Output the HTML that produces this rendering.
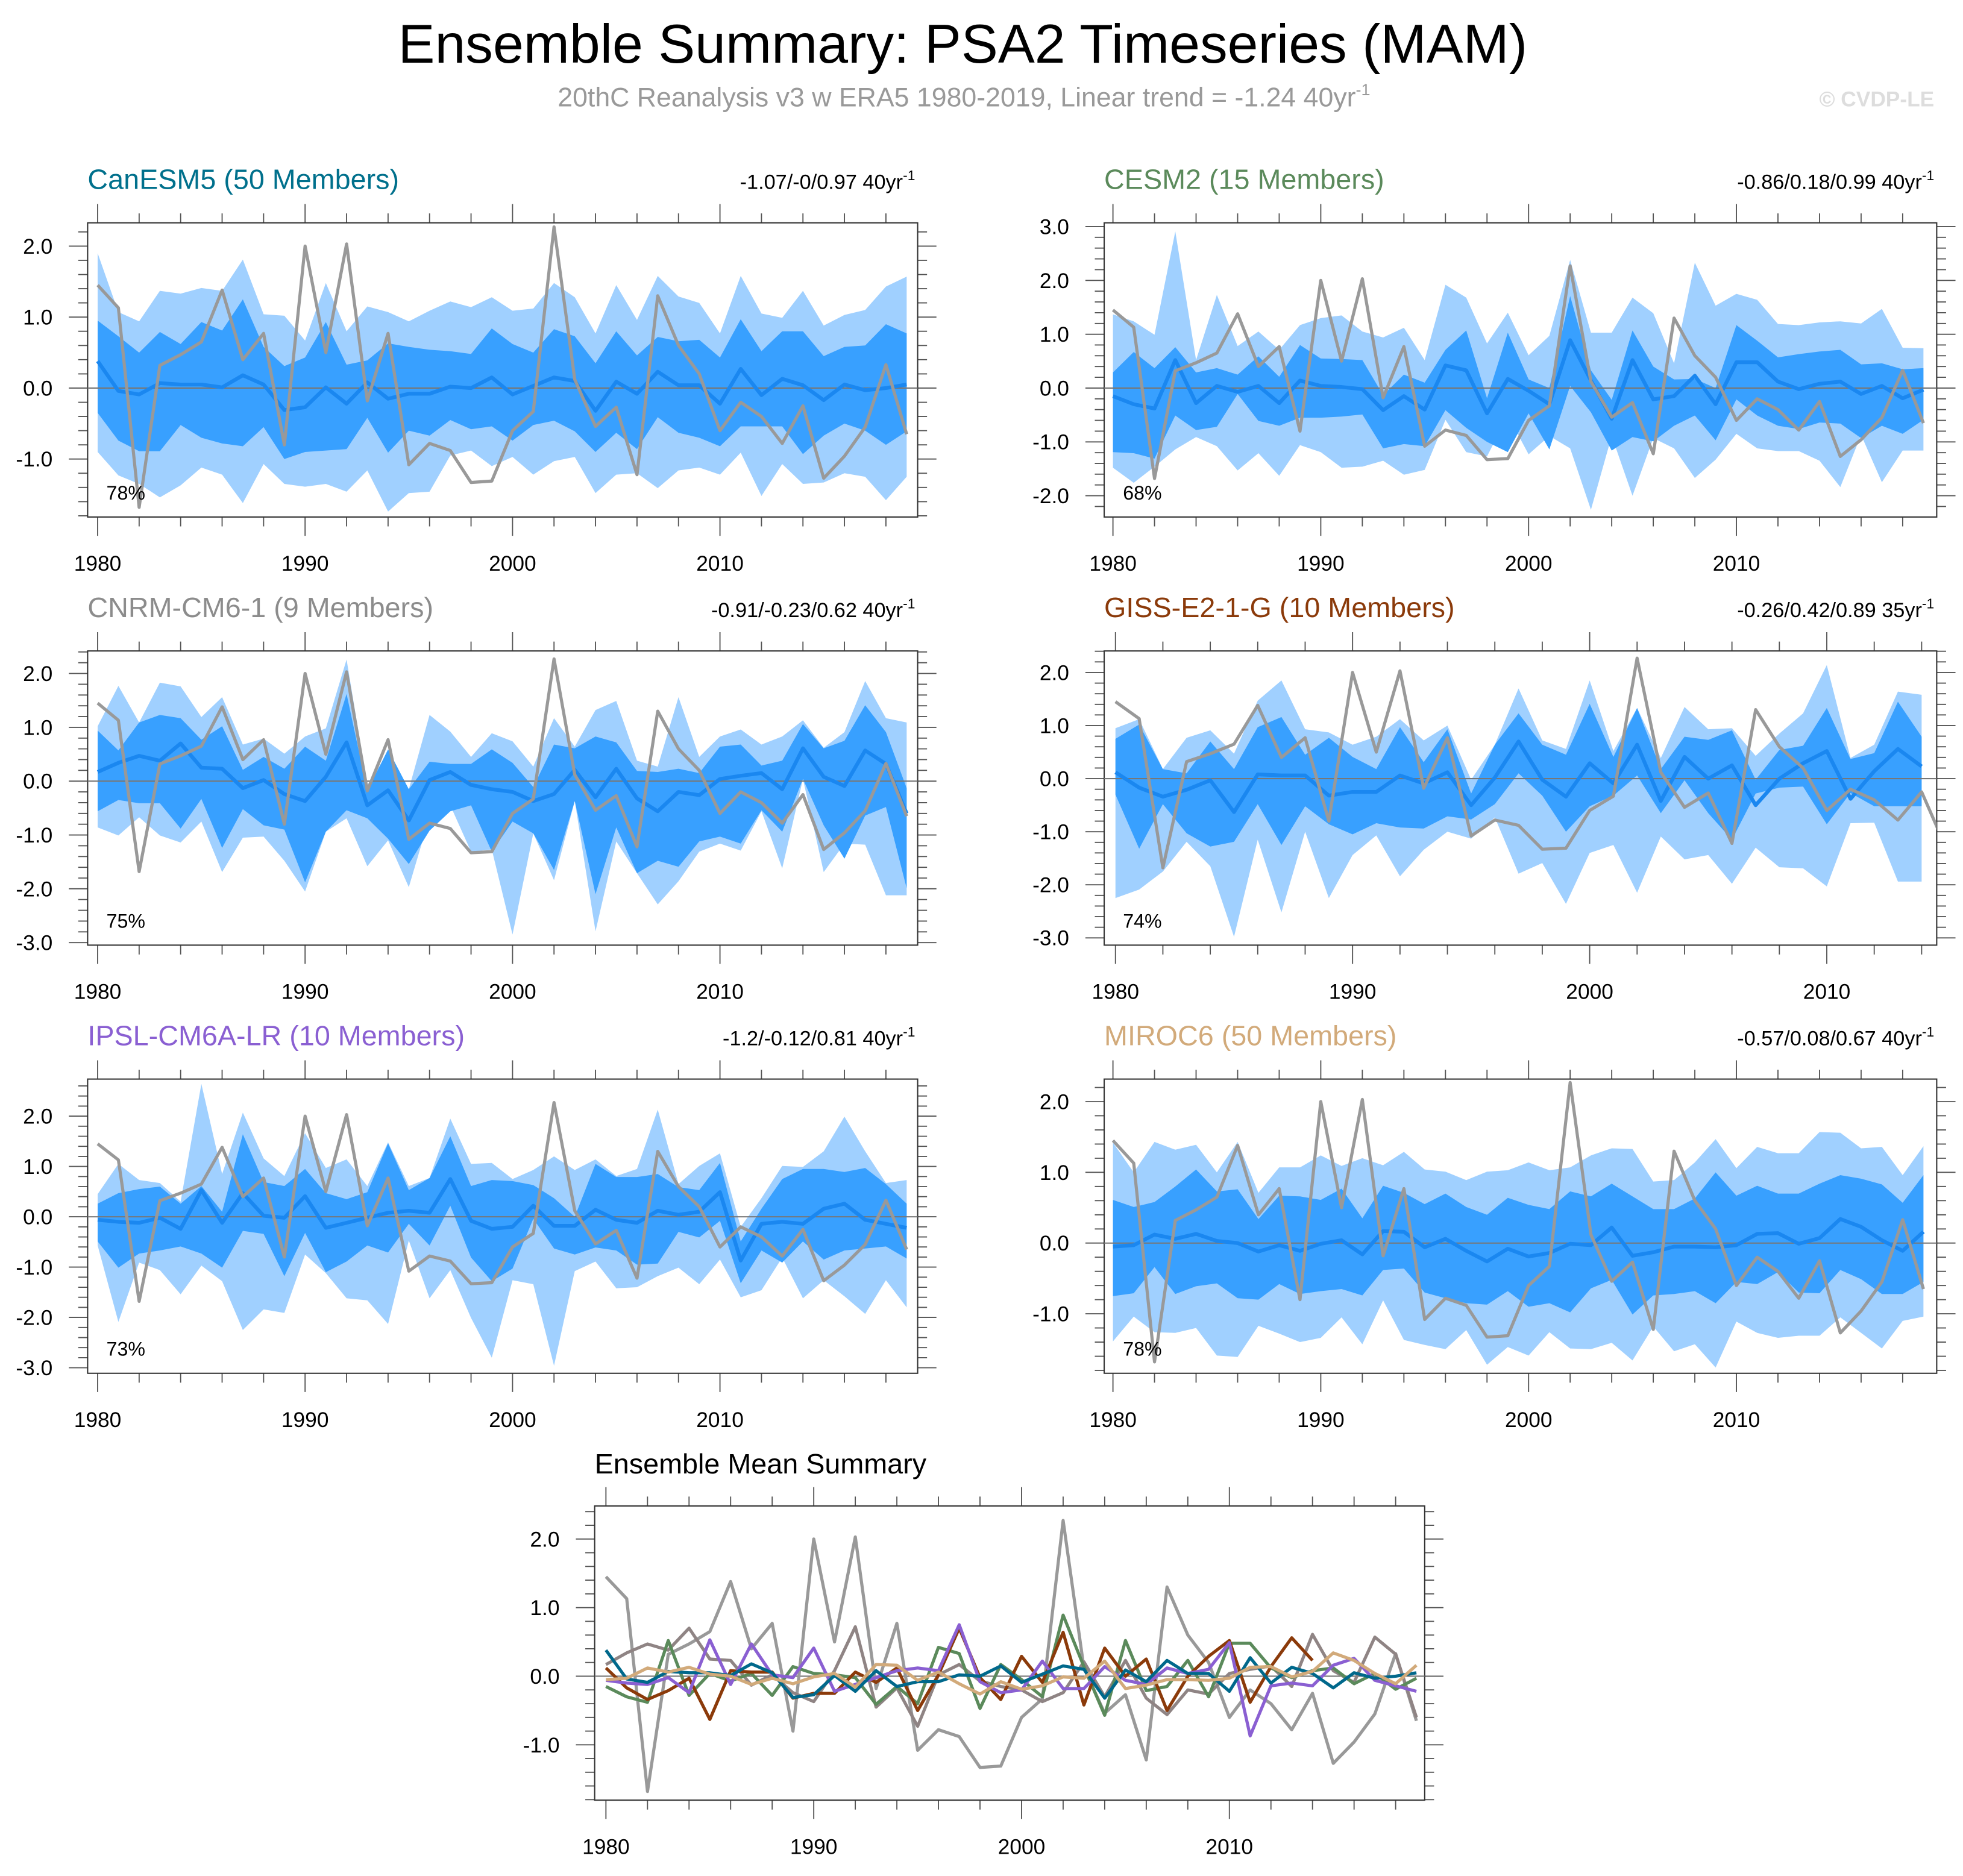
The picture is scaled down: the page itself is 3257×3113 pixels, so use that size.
<!DOCTYPE html>
<html><head><meta charset="utf-8"><style>
html,body{margin:0;padding:0;background:#fff;}
svg{display:block;font-family:"Liberation Sans",sans-serif;}
</style></head><body>
<svg id="chart" xmlns="http://www.w3.org/2000/svg" width="3257" height="3113" viewBox="0 0 1568 1498.6" preserveAspectRatio="none">
<rect x="0" y="0" width="1568" height="1498.6" fill="#fff"/>
<text x="769" y="50" font-size="44" text-anchor="middle" fill="#000">Ensemble Summary: PSA2 Timeseries (MAM)</text>
<text x="770" y="85" font-size="21.5" text-anchor="middle" fill="#999">20thC Reanalysis v3 w ERA5 1980-2019, Linear trend = -1.24 40yr<tspan dy="-9" font-size="13">-1</tspan></text>
<text x="1545" y="85" font-size="17" font-weight="bold" text-anchor="end" fill="#ddd">© CVDP-LE</text>
<g id="panels"></g>
</svg>
<script>
// ---- data ----
const obsYears = [1980,1981,1982,1983,1984,1985,1986,1987,1988,1989,1990,1991,1992,1993,1994,1995,1996,1997,1998,1999,2000,2001,2002,2003,2004,2005,2006,2007,2008,2009,2010,2011,2012,2013,2014,2015,2016,2017,2018,2019];
const obs = [1.45,1.13,-1.68,0.32,0.47,0.65,1.38,0.40,0.77,-0.80,2.0,0.50,2.03,-0.18,0.77,-1.08,-0.78,-0.88,-1.33,-1.31,-0.60,-0.33,2.27,0.12,-0.54,-0.27,-1.22,1.30,0.60,0.20,-0.60,-0.20,-0.40,-0.78,-0.25,-1.27,-0.96,-0.55,0.33,-0.65];

const canOuterHi=[1.9,1.07,0.94,1.37,1.33,1.41,1.37,1.81,1.04,1.02,0.67,1.48,0.8,1.15,1.07,0.94,1.09,1.22,1.14,1.28,1.09,1.12,1.48,1.28,0.77,1.45,0.96,1.58,1.29,1.2,0.77,1.58,1.05,0.99,1.37,0.88,1.03,1.1,1.43,1.57];
const canInnerHi=[0.95,0.73,0.5,0.79,0.62,0.93,0.81,1.25,0.58,0.31,0.43,0.93,0.33,0.39,0.63,0.58,0.54,0.52,0.48,0.84,0.62,0.5,0.83,0.73,0.35,0.8,0.46,0.72,0.66,0.68,0.43,0.97,0.52,0.8,0.8,0.45,0.58,0.6,0.9,0.77];
const canMean=[0.38,-0.04,-0.09,0.07,0.05,0.05,0.01,0.18,0.05,-0.31,-0.27,0.01,-0.22,0.08,-0.15,-0.08,-0.08,0.02,0.0,0.15,-0.09,0.03,0.15,0.1,-0.32,0.09,-0.08,0.23,0.04,0.04,-0.22,0.27,-0.1,0.13,0.04,-0.17,0.05,-0.03,0.0,0.05];
const canInnerLo=[-0.35,-0.74,-0.89,-0.89,-0.52,-0.7,-0.78,-0.82,-0.55,-1.0,-0.9,-0.88,-0.86,-0.42,-0.91,-0.6,-0.67,-0.45,-0.58,-0.54,-0.74,-0.52,-0.46,-0.61,-0.9,-0.63,-0.86,-0.41,-0.63,-0.7,-0.82,-0.54,-0.54,-0.54,-0.93,-0.67,-0.5,-0.6,-0.8,-0.61];
const canOuterLo=[-0.9,-1.23,-1.35,-1.54,-1.37,-1.12,-1.22,-1.62,-1.07,-1.35,-1.39,-1.35,-1.46,-1.16,-1.74,-1.48,-1.46,-0.95,-0.88,-1.1,-0.97,-1.22,-1.03,-0.97,-1.48,-1.22,-1.2,-1.41,-1.16,-1.12,-1.22,-0.91,-1.52,-1.07,-1.35,-1.33,-1.2,-1.25,-1.58,-1.25];

const cesmOuterHi=[1.37,1.24,0.99,2.91,0.52,1.73,0.78,1.05,0.71,1.17,1.3,1.35,1.05,0.94,1.12,0.52,1.92,1.68,0.83,1.4,0.61,0.97,2.38,1.03,1.03,1.68,1.39,0.46,2.33,1.53,1.75,1.64,1.19,1.17,1.22,1.24,1.2,1.47,0.75,0.74];
const cesmInnerHi=[0.29,0.67,0.37,0.76,0.29,0.37,0.25,0.59,0.21,0.8,0.55,0.54,0.52,-0.13,0.25,0.1,0.71,1.07,-0.19,1.03,0.16,0.0,1.71,0.33,-0.22,1.07,0.4,0.16,0.17,0.0,1.17,0.88,0.57,0.63,0.68,0.71,0.44,0.46,0.35,0.37];
const cesmMean=[-0.15,-0.3,-0.38,0.52,-0.28,0.04,-0.07,0.04,-0.28,0.14,0.04,0.02,-0.02,-0.41,-0.15,-0.4,0.42,0.33,-0.47,0.17,-0.05,-0.3,0.89,0.14,-0.57,0.52,-0.21,-0.15,0.23,-0.3,0.48,0.48,0.12,-0.02,0.08,0.12,-0.11,0.04,-0.19,-0.03];
const cesmInnerLo=[-1.19,-1.21,-1.31,-0.51,-0.78,-0.72,-0.11,-0.61,-0.7,-0.55,-0.55,-0.53,-0.49,-1.12,-1.04,-1.08,-0.41,-0.74,-1.0,-1.19,-0.47,-1.14,0.04,-0.45,-1.16,-0.91,-0.99,-0.7,-0.51,-0.97,-0.21,-0.51,-0.7,-0.76,-0.64,-0.66,-0.93,-0.7,-0.85,-0.59];
const cesmOuterLo=[-1.48,-1.76,-1.46,-1.14,-0.91,-1.08,-1.53,-1.21,-1.63,-1.06,-1.19,-1.48,-1.46,-1.35,-1.61,-1.52,-0.59,-1.19,-1.27,-0.51,-1.23,-0.89,-1.12,-2.26,-0.89,-2.0,-0.93,-1.12,-1.67,-1.33,-0.85,-1.12,-1.17,-1.17,-1.35,-1.84,-0.87,-1.75,-1.16,-1.16];

const cnrmOuterHi=[1.02,1.77,1.09,1.83,1.76,1.19,1.56,0.68,0.79,0.51,0.83,0.98,2.26,-0.07,0.53,-0.15,1.23,0.92,0.45,0.89,0.74,0.27,1.17,0.64,1.32,1.49,0.38,0.27,1.56,0.45,0.83,0.96,0.68,0.83,1.13,0.62,0.91,1.86,1.17,1.09];
const cnrmInnerHi=[0.94,0.57,1.09,1.23,1.17,0.77,1.02,0.21,0.45,0.23,0.64,0.38,1.62,-0.18,0.59,-0.15,0.36,0.32,0.32,0.59,0.34,-0.11,0.68,0.61,0.83,0.72,0.19,0.17,0.23,0.15,0.64,0.68,0.29,0.38,1.06,0.61,0.75,1.41,0.91,-0.13];
const cnrmMean=[0.17,0.34,0.47,0.38,0.7,0.25,0.23,-0.13,0.02,-0.24,-0.37,0.08,0.72,-0.45,-0.17,-0.73,0.02,0.17,-0.07,-0.15,-0.2,-0.37,-0.24,0.21,-0.3,0.23,-0.32,-0.56,-0.2,-0.26,0.04,0.1,0.15,-0.15,0.61,0.08,-0.09,0.57,0.32,-0.6];
const cnrmInnerLo=[-0.56,-0.35,-0.41,-0.41,-0.88,-0.33,-1.24,-0.52,-0.82,-0.9,-1.88,-0.94,-0.54,-0.69,-1.07,-1.54,-0.92,-0.56,-0.45,-1.31,-0.75,-0.97,-1.65,-0.37,-2.1,-0.86,-1.71,-1.48,-1.59,-1.12,-1.03,-1.16,-0.54,-0.94,0.04,-0.82,-1.44,-0.64,-0.48,-1.99];
const cnrmOuterLo=[-0.86,-1.01,-0.67,-1.01,-1.14,-0.75,-1.69,-1.05,-1.03,-1.48,-2.05,-0.94,-0.69,-1.58,-1.1,-1.97,-0.67,-0.45,-1.31,-1.27,-2.85,-0.97,-1.84,-0.37,-2.79,-1.12,-1.71,-2.29,-1.86,-1.31,-1.16,-1.29,-0.56,-1.62,0.04,-1.69,-1.16,-1.18,-2.12,-2.12];

const gissOuterHi=[0.95,1.12,0.18,0.77,0.91,0.47,1.47,1.85,0.93,0.87,0.64,0.79,1.12,0.72,1.0,-0.02,0.64,1.7,0.72,0.56,1.85,0.52,1.33,0.39,1.35,0.93,0.95,0.43,0.85,1.23,2.14,0.39,0.64,1.64,1.58];
const gissInnerHi=[0.75,1.02,0.18,0.1,0.7,0.18,0.97,1.16,0.45,0.77,0.41,0.18,0.97,0.31,0.93,-0.28,0.64,1.23,0.64,0.45,1.41,0.41,1.33,0.18,0.79,0.73,0.91,-0.02,0.54,0.62,1.33,0.37,0.48,1.45,0.79];
const gissMean=[0.12,-0.17,-0.34,-0.21,-0.03,-0.63,0.08,0.06,0.06,-0.32,-0.25,-0.25,0.06,-0.09,0.12,-0.5,0.02,0.7,-0.02,-0.34,0.29,-0.09,0.64,-0.42,0.41,0.0,0.25,-0.5,0.0,0.29,0.52,-0.38,0.14,0.56,0.23];
const gissInnerLo=[-0.3,-1.32,-0.48,-1.03,-1.28,-1.19,-0.48,-1.25,-0.52,-0.86,-1.05,-0.84,-0.92,-0.94,-0.71,-0.77,-0.48,0.1,-0.32,-1.0,-0.52,-0.32,0.06,-0.65,-0.03,-0.65,-1.15,-0.28,-0.17,-0.15,-0.86,-0.27,-0.52,-0.52,-0.52];
const gissOuterLo=[-2.25,-2.09,-1.75,-1.19,-1.65,-2.98,-1.15,-2.52,-1.0,-2.25,-1.44,-1.07,-1.84,-1.34,-1.0,-1.13,-0.73,-1.79,-1.59,-2.36,-1.4,-1.25,-2.15,-1.09,-1.52,-1.44,-1.98,-1.3,-1.67,-1.69,-2.03,-0.84,-0.83,-1.94,-1.94];

const ipslOuterHi=[0.45,1.05,0.73,0.67,0.3,2.64,0.85,2.07,1.16,0.81,1.66,0.97,1.14,0.61,1.48,0.61,0.77,1.95,1.05,1.07,0.75,0.93,1.2,0.93,1.14,0.81,0.95,2.13,0.65,1.01,1.26,-0.2,0.37,1.01,0.99,1.3,1.99,1.3,0.67,0.73];
const ipslInnerHi=[0.26,0.47,0.55,0.6,0.26,0.61,0.1,1.64,0.69,0.61,0.95,0.47,0.35,0.49,1.46,0.53,0.77,1.6,0.61,0.73,0.71,0.63,0.37,0.0,1.05,0.79,0.79,0.85,0.59,0.53,1.07,-0.49,0.16,0.75,0.95,0.95,0.89,0.97,0.65,0.26];
const ipslMean=[-0.06,-0.1,-0.12,-0.02,-0.24,0.53,-0.12,0.47,0.02,-0.02,0.41,-0.22,-0.12,-0.02,0.08,0.12,0.08,0.75,-0.08,-0.24,-0.2,0.22,-0.18,-0.18,0.14,-0.06,-0.12,0.12,0.04,0.1,0.49,-0.87,-0.14,-0.1,-0.14,0.16,0.26,-0.06,-0.14,-0.22];
const ipslInnerLo=[-0.49,-1.01,-0.73,-0.67,-0.59,-0.73,-1.01,-0.28,-0.34,-1.18,-0.32,-1.1,-0.89,-0.57,-0.71,-0.14,-0.57,0.22,-0.81,-1.28,-1.03,-0.04,-0.63,-0.75,-0.61,-0.67,-0.95,-0.93,-0.3,-0.41,-0.08,-1.32,-0.67,-0.91,-0.49,-0.85,-0.67,-0.63,-0.59,-0.83];
const ipslOuterLo=[-0.57,-2.09,-0.91,-1.06,-1.54,-0.97,-1.28,-2.25,-1.84,-1.91,-0.75,-1.12,-1.62,-1.66,-2.13,-0.47,-1.62,-1.06,-2.01,-2.8,-1.26,-1.34,-2.96,-1.08,-0.89,-1.42,-1.4,-1.18,-1.01,-1.34,-0.85,-1.6,-1.46,-0.81,-1.62,-1.26,-1.58,-1.93,-1.26,-1.8];

const mirocOuterHi=[1.42,1.0,1.43,1.32,1.39,1.0,1.43,0.71,1.07,1.07,1.24,1.09,1.2,1.1,1.29,1.04,1.01,0.89,1.01,1.03,1.14,1.03,1.07,1.24,1.34,1.33,0.87,0.89,1.14,1.47,1.06,1.36,1.27,1.27,1.57,1.56,1.34,1.36,0.96,1.37];
const mirocInnerHi=[0.61,0.51,0.58,0.8,1.04,0.73,0.76,0.34,0.67,0.66,0.61,0.77,0.35,0.81,0.71,0.55,0.7,0.51,0.4,0.64,0.54,0.48,0.73,0.66,0.84,0.66,0.48,0.48,0.63,1.0,0.67,0.81,0.7,0.7,0.84,0.96,0.91,0.83,0.57,0.96];
const mirocMean=[-0.05,-0.03,0.12,0.06,0.13,0.03,0.0,-0.12,-0.03,-0.11,-0.01,0.04,-0.16,0.17,0.16,-0.06,0.06,-0.11,-0.26,-0.08,-0.19,-0.14,-0.01,-0.03,0.22,-0.18,-0.13,-0.05,-0.05,-0.06,-0.03,0.13,0.14,-0.01,0.07,0.34,0.23,0.04,-0.11,0.16];
const mirocInnerLo=[-0.75,-0.71,-0.34,-0.72,-0.61,-0.57,-0.78,-0.8,-0.58,-0.72,-0.68,-0.65,-0.74,-0.38,-0.36,-0.7,-0.78,-0.85,-0.87,-0.68,-0.9,-0.85,-0.98,-0.64,-0.52,-1.01,-0.74,-0.72,-0.68,-0.85,-0.55,-0.58,-0.41,-0.7,-0.71,-0.38,-0.51,-0.72,-0.72,-0.55];
const mirocOuterLo=[-1.39,-1.04,-1.26,-1.27,-1.2,-1.59,-1.61,-1.17,-1.28,-1.4,-1.34,-1.05,-1.43,-0.81,-1.37,-1.44,-1.5,-1.23,-1.72,-1.47,-1.59,-1.26,-1.49,-1.5,-1.41,-1.66,-1.18,-1.53,-1.43,-1.76,-1.11,-1.27,-1.34,-1.31,-1.31,-1.05,-1.27,-1.49,-1.1,-1.04];

const modelNames = ["CanESM5 (50 Members)","CESM2 (15 Members)","CNRM-CM6-1 (9 Members)","GISS-E2-1-G (10 Members)","IPSL-CM6A-LR (10 Members)","MIROC6 (50 Members)"];
const trendLabels = ["-1.07/-0/0.97 40yr","-0.86/0.18/0.99 40yr","-0.91/-0.23/0.62 40yr","-0.26/0.42/0.89 35yr","-1.2/-0.12/0.81 40yr","-0.57/0.08/0.67 40yr"];
const pctLabels = ["78%","68%","75%","74%","73%","78%"];
const xTickLabels = [1980,1990,2000,2010];

// ---- layout ----
const NS="http://www.w3.org/2000/svg";
const root=document.getElementById('panels');
const colors=["#00708c","#5b8a5b","#8c8c8c","#8b3a0a","#8a5fd2","#d2aa7a"];
const meanLineColors=["#00688b","#5b8a5b","#8f8484","#8b3a0a","#8a5fd2","#d2aa7a"];
const panels=[
 {box:[70,178,733,413],x0:78,dx:16.57,y0:310,dy:56.7,yt:[2,1,0,-1],slug:"canesm5",d:[canOuterHi,canInnerHi,canMean,canInnerLo,canOuterLo]},
 {box:[882,178,1547,413],x0:889,dx:16.6,y0:310,dy:43,yt:[3,2,1,0,-1,-2],slug:"cesm2",d:[cesmOuterHi,cesmInnerHi,cesmMean,cesmInnerLo,cesmOuterLo]},
 {box:[70,520,733,755],x0:78,dx:16.57,y0:624,dy:43,yt:[2,1,0,-1,-2,-3],slug:"cnrm",d:[cnrmOuterHi,cnrmInnerHi,cnrmMean,cnrmInnerLo,cnrmOuterLo]},
 {box:[882,520,1547,755],x0:891,dx:18.94,y0:622,dy:42.4,yt:[2,1,0,-1,-2,-3],slug:"giss",d:[gissOuterHi,gissInnerHi,gissMean,gissInnerLo,gissOuterLo]},
 {box:[70,862,733,1097],x0:78,dx:16.57,y0:972,dy:40.2,yt:[2,1,0,-1,-2,-3],slug:"ipsl",d:[ipslOuterHi,ipslInnerHi,ipslMean,ipslInnerLo,ipslOuterLo]},
 {box:[882,862,1547,1097],x0:889,dx:16.6,y0:993,dy:56.5,yt:[2,1,0,-1],slug:"miroc6",d:[mirocOuterHi,mirocInnerHi,mirocMean,mirocInnerLo,mirocOuterLo]}
];
function mk(tag,attrs,parent){const e=document.createElementNS(NS,tag);for(const k in attrs)e.setAttribute(k,attrs[k]);(parent||root).appendChild(e);return e;}
function axes(g,p){
 const [L,T,R,B]=p.box;
 const X=y=>p.x0+(y-1980)*p.dx, Y=v=>p.y0-v*p.dy;
 const vMin=(p.y0-B)/p.dy, vMax=(p.y0-T)/p.dy;
 let tk="";
 for(let y=1980;y<=2020;y+=2){const x=X(y);if(x<L-0.5||x>R+0.5)continue;const len=(y%10===0)?15:7.5;tk+=`M${x},${T}V${T-len}M${x},${B}V${B+len}`;}
 for(let k=Math.ceil(vMin*5);k<=Math.floor(vMax*5);k++){const y=Y(k/5);const len=(k%5===0)?15:7.5;tk+=`M${L},${y}H${L-len}M${R},${y}H${R+len}`;}
 const ticks=mk('path',{d:tk,stroke:"#555","stroke-width":"0.9",fill:"none"},g);
 
 
 const frame=mk('rect',{x:L,y:T,width:R-L,height:B-T,fill:"none",stroke:"#333","stroke-width":"1"},g);
 
 
 xTickLabels.forEach(yr=>{const t=mk('text',{x:X(yr),y:B+43,"font-size":"17","text-anchor":"middle",fill:"#000"},g);t.textContent=yr;
  
  });
 p.yt.forEach(v=>{const t=mk('text',{x:L-28,y:Y(v)+6,"font-size":"17","text-anchor":"end",fill:"#000"},g);t.textContent=v.toFixed(1);
  
  });
 return {X,Y};
}
function line(g,vals,X,Y,stroke,w,name){
 const pts=vals.map((v,i)=>X(1980+i)+","+Y(v)).join(" ");
 const l=mk('polyline',{points:pts,fill:"none",stroke:stroke,"stroke-width":w,"stroke-linejoin":"round"},g);
 
 
 return l;
}
function band(g,hi,lo,X,Y,fill,name){
 const a=hi.map((v,i)=>X(1980+i)+","+Y(v));
 const b=lo.map((v,i)=>X(1980+i)+","+Y(v)).reverse();
 const pg=mk('polygon',{points:a.concat(b).join(" "),fill:fill},g);
 
 
}
panels.forEach((p,idx)=>{
 const g=mk('g',{});
 
 
 const [L,T,R,B]=p.box;
 const cp=mk('clipPath',{id:'clip'+idx},g);mk('rect',{x:L,y:T,width:R-L,height:B-T},cp);
 const {X,Y}=axes(g,p);
 const inner=mk('g',{"clip-path":`url(#clip${idx})`},g);
 
 
 band(inner,p.d[0],p.d[4],X,Y,"#a0d0ff","outer-range-band");
 band(inner,p.d[1],p.d[3],X,Y,"#38a0ff","inner-range-band");
 const z=mk('line',{x1:L,x2:R,y1:Y(0),y2:Y(0),stroke:"#777","stroke-width":"1"},inner);
 
 
 line(inner,p.d[2],X,Y,"#1a87f0",3,"ensemble-mean-line");
 line(inner,obs,X,Y,"#999",2.5,"observed-line");
 const t=mk('text',{x:L,y:T-27,"font-size":"22.5",fill:colors[idx]},g);t.textContent=modelNames[idx];
 
 
 const tr=mk('text',{x:R-2,y:T-27,"font-size":"16.5","text-anchor":"end",fill:"#000"},g);
 tr.textContent=trendLabels[idx];
 const sp=mk('tspan',{dy:"-7","font-size":"11"},tr);sp.textContent="-1";
 
 
 const pc=mk('text',{x:L+15,y:B-14,"font-size":"15.5",fill:"#000"},g);pc.textContent=pctLabels[idx];
 
 
});
// summary panel
(function(){
 const p={box:[475,1203,1138,1438],x0:484,dx:16.6,y0:1339,dy:54.8,yt:[2,1,0,-1]};
 const g=mk('g',{});
 
 
 const [L,T,R,B]=p.box;
 const cp=mk('clipPath',{id:'clip6'},g);mk('rect',{x:L,y:T,width:R-L,height:B-T},cp);
 const {X,Y}=axes(g,p);
 const inner=mk('g',{"clip-path":"url(#clip6)"},g);
 
 
 const z=mk('line',{x1:L,x2:R,y1:Y(0),y2:Y(0),stroke:"#777","stroke-width":"1"},inner);
 
 
 line(inner,obs,X,Y,"#999",2.5,"observed-line");
 const means=[canMean,cesmMean,cnrmMean,gissMean,ipslMean,mirocMean];
 [2,1,3,4,0,5].forEach(i=>{line(inner,means[i],X,Y,meanLineColors[i],2.5,"mean-line-"+panels[i].slug);});
 const t=mk('text',{x:L,y:T-26,"font-size":"22.5",fill:"#000"},g);t.textContent="Ensemble Mean Summary";
 
 
})();
</script>
</body></html>
